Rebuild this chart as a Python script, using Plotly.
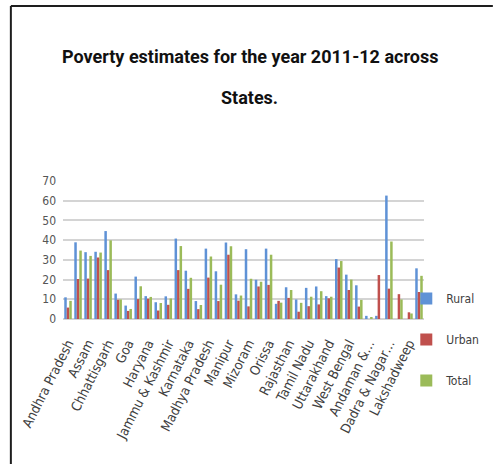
import plotly.graph_objects as go

# Poverty ratio (% of persons), 2011-12, by State / UT
states = [
    "Andhra Pradesh", "Arunachal Pradesh", "Assam", "Bihar", "Chhattisgarh",
    "Delhi", "Goa", "Gujarat", "Haryana", "Himachal Pradesh",
    "Jammu & Kashmir", "Jharkhand", "Karnataka", "Kerala", "Madhya Pradesh",
    "Maharashtra", "Manipur", "Meghalaya", "Mizoram", "Nagaland",
    "Orissa", "Punjab", "Rajasthan", "Sikkim", "Tamil Nadu",
    "Tripura", "Uttarakhand", "Uttar Pradesh", "West Bengal", "Puducherry",
    "Andaman & Nicobar Islands", "Chandigarh", "Dadra & Nagar Haveli",
    "Daman & Diu", "Lakshadweep", "All India",
]
rural = [11.0, 38.9, 33.9, 34.1, 44.6, 12.9, 6.8, 21.5, 11.6, 8.5,
         11.5, 40.8, 24.5, 9.1, 35.7, 24.2, 38.8, 12.5, 35.4, 19.9,
         35.7, 7.7, 16.1, 9.9, 15.8, 16.5, 11.6, 30.4, 22.5, 17.1,
         1.6, 1.6, 62.6, 0.0, 0.0, 25.7]
urban = [5.8, 20.3, 20.5, 31.2, 24.8, 9.8, 4.1, 10.1, 10.3, 4.3,
         7.2, 24.8, 15.3, 5.0, 21.0, 9.1, 32.6, 9.3, 6.4, 16.5,
         17.3, 9.2, 10.7, 3.7, 6.5, 7.4, 10.5, 26.1, 14.7, 6.3,
         0.0, 22.3, 15.4, 12.6, 3.4, 13.7]
total = [9.2, 34.7, 32.0, 33.7, 39.9, 9.9, 5.1, 16.6, 11.2, 8.1,
         10.4, 37.0, 20.9, 7.1, 31.7, 17.4, 36.9, 11.9, 20.4, 18.9,
         32.6, 8.3, 14.7, 8.2, 11.3, 14.1, 11.3, 29.4, 20.0, 9.7,
         1.0, None, 39.3, 9.9, 2.8, 21.9]

title_lines = ["Poverty estimates for the year 2011-12 across", "States."]

# every other category carries a label on the axis
tick_idx = list(range(0, len(states), 2))
tick_text = [states[i] for i in tick_idx]
tick_text[tick_text.index("Andaman & Nicobar Islands")] = "Andaman &…"
tick_text[tick_text.index("Dadra & Nagar Haveli")] = "Dadra & Nagar…"
tick_vals = [states[i] for i in tick_idx]

series = [("Rural", rural, "#5f92d6"),
          ("Urban", urban, "#c0504d"),
          ("Total", total, "#9bbb59")]

NARROW = "DejaVu Sans Condensed, Roboto, sans-serif"
TITLE_FONT = "Roboto, Liberation Sans, sans-serif"

W, H = 496, 464
L, R, T, B = 63, 66, 181, 145
pw, ph = W - L - R, H - T - B

fig = go.Figure()
for name, vals, col in series:
    fig.add_trace(go.Bar(
        x=states, y=vals, name=name, marker_color=col,
        marker_line_width=0, legendgroup=name,
    ))


def px_x(p):
    return (p - L) / pw


def px_y(p):
    return (H - B - p) / ph


# outer frame (left and top edges)
fig.add_shape(type="line", xref="paper", yref="paper",
              x0=px_x(10), x1=px_x(10), y0=px_y(470), y1=px_y(6),
              line=dict(color="#1e1e1e", width=2))
fig.add_shape(type="line", xref="paper", yref="paper",
              x0=px_x(10), x1=px_x(500), y0=px_y(6), y1=px_y(6),
              line=dict(color="#1e1e1e", width=2))

# two-line chart title
for text, ypix in zip(title_lines, (56, 97)):
    fig.add_annotation(
        text=f"<b>{text}</b>", xref="paper", yref="paper",
        x=px_x(253), y=px_y(ypix), xanchor="center", yanchor="middle",
        showarrow=False,
        font=dict(family=TITLE_FONT, size=18, color="#111111"),
    )

fig.update_layout(
    width=W, height=H,
    margin=dict(l=L, r=R, t=T, b=B),
    paper_bgcolor="white", plot_bgcolor="white",
    barmode="group", bargap=0.25, bargroupgap=0.0,
    showlegend=True,
    legend=dict(
        x=px_x(412), xanchor="left", y=px_y(284), yanchor="top",
        bgcolor="rgba(0,0,0,0)", tracegroupgap=22,
        font=dict(family=NARROW, size=12, color="#404040"),
    ),
    xaxis=dict(
        type="category", tickmode="array",
        tickvals=tick_vals, ticktext=tick_text,
        tickangle=-63, ticks="", showgrid=False,
        showline=False, ticklabelstandoff=13,
        tickfont=dict(family=NARROW, size=13.5, color="#404040"),
    ),
    yaxis=dict(
        range=[0, 70], dtick=10, tick0=0,
        showgrid=True, gridcolor="#d4d4d4", gridwidth=2,
        zeroline=True, zerolinecolor="#d4d4d4", zerolinewidth=2,
        ticks="", showline=False, ticklabelstandoff=6,
        tickfont=dict(family=NARROW, size=12, color="#555555"),
    ),
)

fig.write_html("out.html")
